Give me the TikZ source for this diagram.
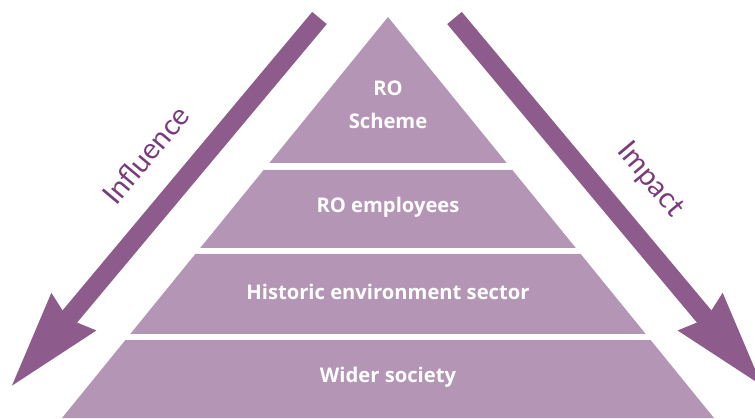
\documentclass[tikz,border=0pt]{standalone}
\usepackage{fontspec}
\setmainfont{Lato}
\newfontfamily\tierfont{Open Sans}
\usetikzlibrary{arrows.meta,calc}
\definecolor{tierfill}{HTML}{B595B5}
\definecolor{arrowfill}{HTML}{8E5C8C}
\definecolor{labeltext}{HTML}{7A3B7D}
\tikzset{
	tier/.style={fill=tierfill},
	tiertext/.style={text=white, font=\tierfont\fontsize{20.2}{33}\selectfont\bfseries, align=center},
	bigarrow/.style={draw=arrowfill, line width=19pt, -{Stealth[length=96pt, width=53pt, inset=6pt]}},
	sidelabel/.style={text=labeltext, font=\fontsize{29}{34}\selectfont}
}
\begin{document}
\begin{tikzpicture}[x=1pt, y=-1pt]
			\useasboundingbox (0,0) rectangle (755,418);
			\coordinate (apex) at (388,17);
			\coordinate (bl) at (62,418);
			\coordinate (br) at (714,418);

			% pyramid tiers
			\foreach \ta/\tb in {0/0.364, 0.3815/0.576, 0.591/0.7905, 0.8055/1}
				\fill[tier] ($(apex)!\ta!(bl)$) -- ($(apex)!\tb!(bl)$) -- ($(apex)!\tb!(br)$) -- ($(apex)!\ta!(br)$) -- cycle;

			\node (scheme)[tiertext] at (388,105) {RO\\Scheme};
			\node (employees)[tiertext] at (388,207) {RO employees};
			\node (sector)[tiertext] at (388,292) {Historic environment sector};
			\node (society)[tiertext] at (388,377) {Wider society};

			% side arrows
			\coordinate (infA) at (319.5,18);
			\coordinate (infB) at (10,388);
			\coordinate (impA) at (454.5,18);
			\coordinate (impB) at (764,388);
			\draw [bigarrow](infA) -- (infB);
			\draw [bigarrow](impA) -- (impB);

			\node (influence)[sidelabel, rotate=50] at (146,155) {Influence};
			\node (impact)[sidelabel, rotate=-50] at (650,180) {Impact};
		\end{tikzpicture}
\end{document}
